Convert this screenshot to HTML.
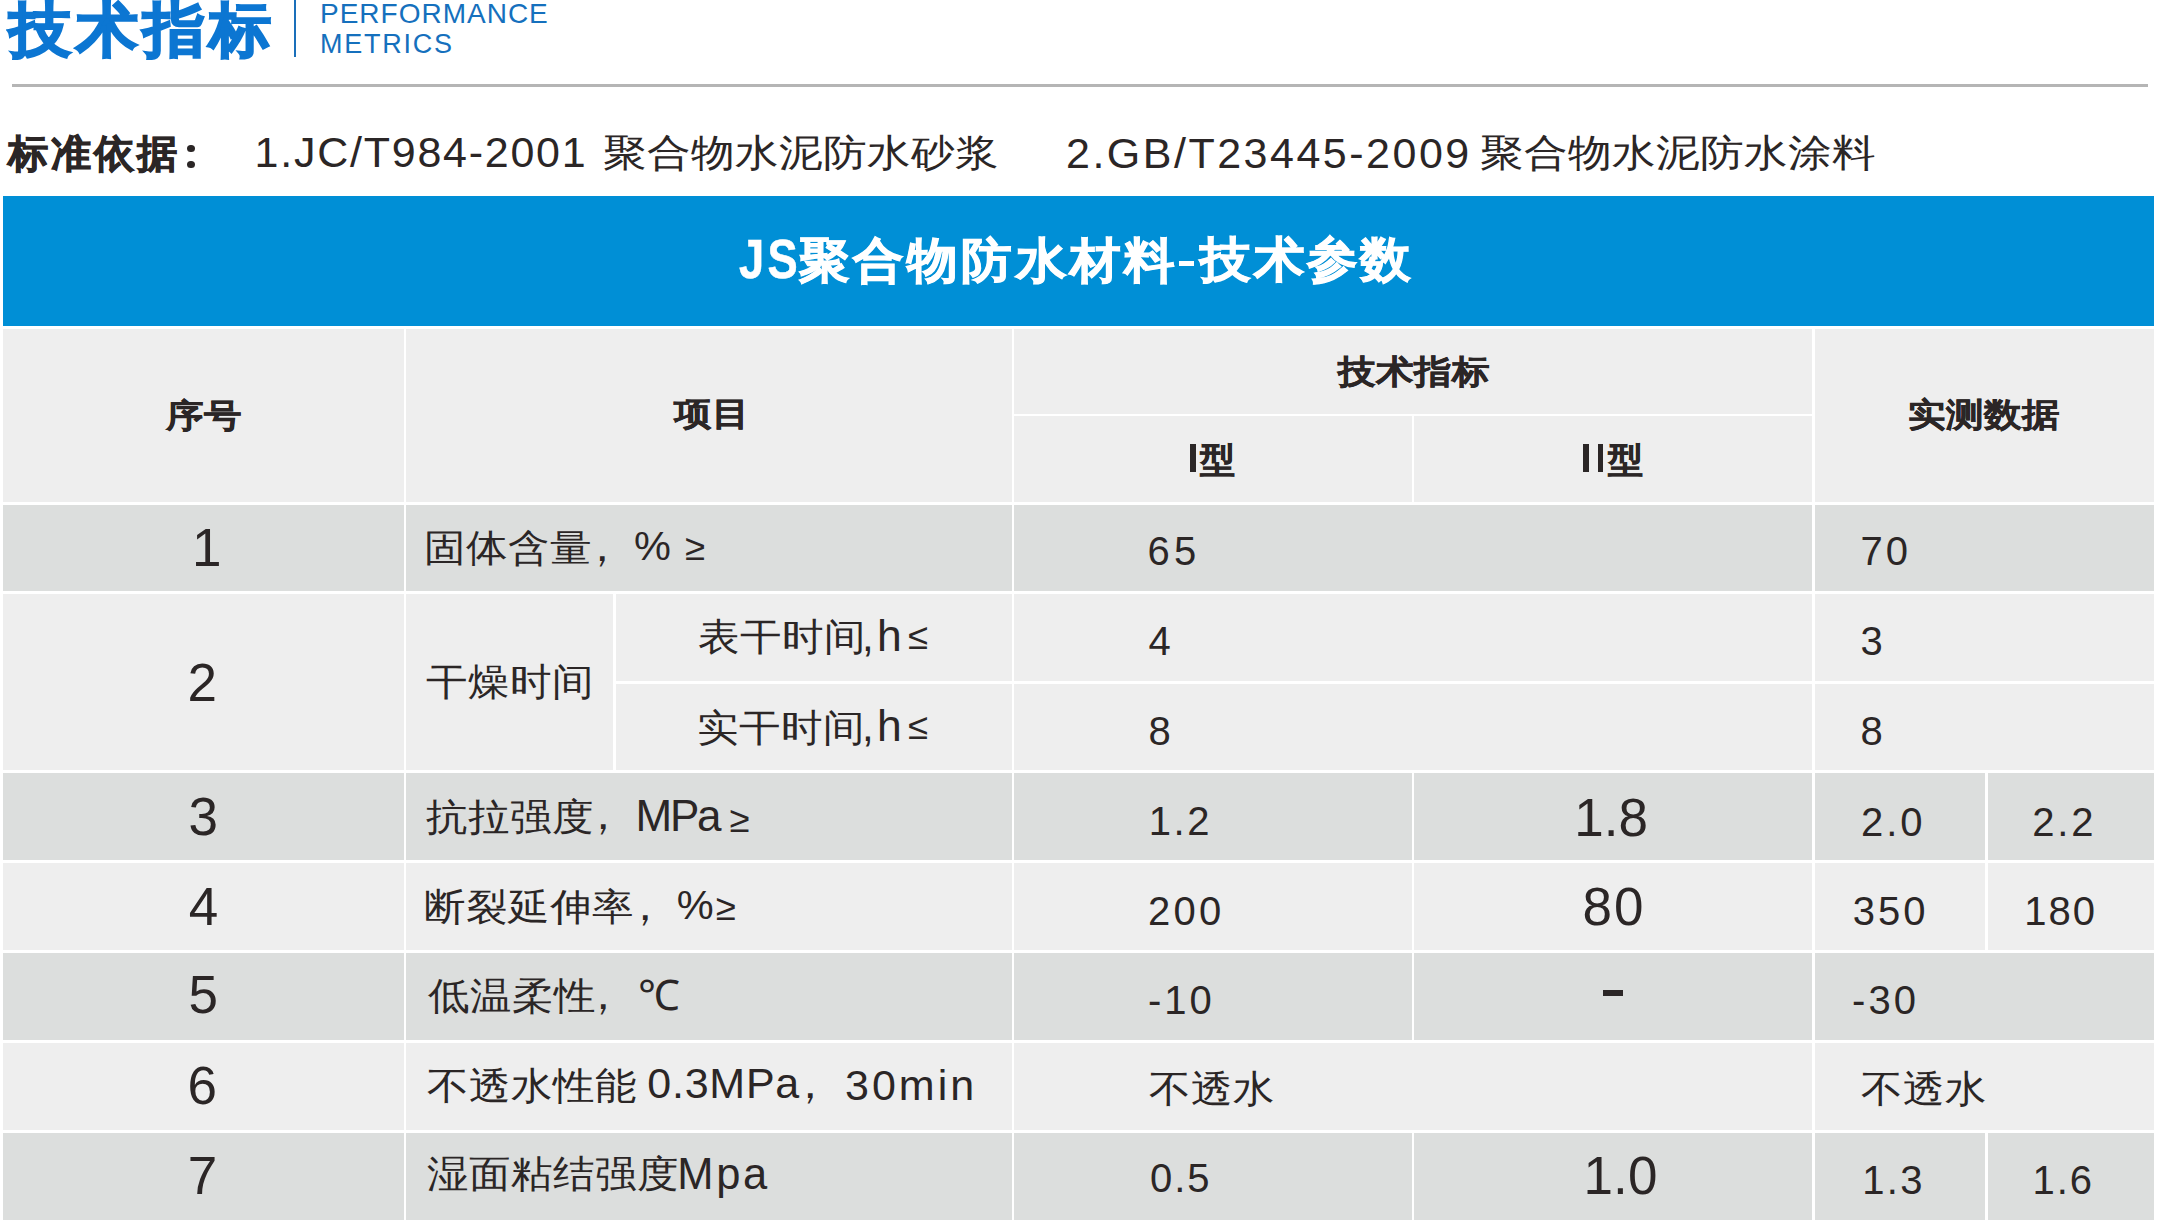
<!DOCTYPE html>
<html><head><meta charset="utf-8"><style>
html,body{margin:0;padding:0;background:#fff;width:2157px;height:1222px;overflow:hidden;position:relative}
.r{position:absolute}
.t{position:absolute;white-space:pre;line-height:1;font-family:"Liberation Sans",sans-serif}
</style></head><body>
<div class="r" style="left:294px;top:0px;width:2px;height:57px;background:#1a6fba"></div>
<div class="r" style="left:12px;top:84px;width:2136px;height:3px;background:#b5b5b5"></div>
<div class="r" style="left:3px;top:196px;width:2151px;height:130px;background:#008fd6"></div>
<div class="r" style="left:3px;top:329px;width:401px;height:173px;background:#eeeeee"></div>
<div class="r" style="left:406px;top:329px;width:606px;height:173px;background:#eeeeee"></div>
<div class="r" style="left:1014px;top:329px;width:798px;height:85px;background:#eeeeee"></div>
<div class="r" style="left:1014px;top:416px;width:398px;height:86px;background:#eeeeee"></div>
<div class="r" style="left:1414px;top:416px;width:398px;height:86px;background:#eeeeee"></div>
<div class="r" style="left:1815px;top:329px;width:339px;height:173px;background:#eeeeee"></div>
<div class="r" style="left:3px;top:505px;width:401px;height:86px;background:#dcdedd"></div>
<div class="r" style="left:406px;top:505px;width:606px;height:86px;background:#dcdedd"></div>
<div class="r" style="left:1014px;top:505px;width:798px;height:86px;background:#dcdedd"></div>
<div class="r" style="left:1815px;top:505px;width:339px;height:86px;background:#dcdedd"></div>
<div class="r" style="left:3px;top:594px;width:401px;height:176px;background:#eeeeee"></div>
<div class="r" style="left:406px;top:594px;width:207px;height:176px;background:#eeeeee"></div>
<div class="r" style="left:616px;top:594px;width:396px;height:87px;background:#eeeeee"></div>
<div class="r" style="left:1014px;top:594px;width:798px;height:87px;background:#eeeeee"></div>
<div class="r" style="left:1815px;top:594px;width:339px;height:87px;background:#eeeeee"></div>
<div class="r" style="left:616px;top:684px;width:396px;height:86px;background:#eeeeee"></div>
<div class="r" style="left:1014px;top:684px;width:798px;height:86px;background:#eeeeee"></div>
<div class="r" style="left:1815px;top:684px;width:339px;height:86px;background:#eeeeee"></div>
<div class="r" style="left:3px;top:773px;width:401px;height:87px;background:#dcdedd"></div>
<div class="r" style="left:406px;top:773px;width:606px;height:87px;background:#dcdedd"></div>
<div class="r" style="left:1014px;top:773px;width:398px;height:87px;background:#dcdedd"></div>
<div class="r" style="left:1414px;top:773px;width:398px;height:87px;background:#dcdedd"></div>
<div class="r" style="left:1815px;top:773px;width:170px;height:87px;background:#dcdedd"></div>
<div class="r" style="left:1988px;top:773px;width:166px;height:87px;background:#dcdedd"></div>
<div class="r" style="left:3px;top:863px;width:401px;height:87px;background:#eeeeee"></div>
<div class="r" style="left:406px;top:863px;width:606px;height:87px;background:#eeeeee"></div>
<div class="r" style="left:1014px;top:863px;width:398px;height:87px;background:#eeeeee"></div>
<div class="r" style="left:1414px;top:863px;width:398px;height:87px;background:#eeeeee"></div>
<div class="r" style="left:1815px;top:863px;width:170px;height:87px;background:#eeeeee"></div>
<div class="r" style="left:1988px;top:863px;width:166px;height:87px;background:#eeeeee"></div>
<div class="r" style="left:3px;top:953px;width:401px;height:87px;background:#dcdedd"></div>
<div class="r" style="left:406px;top:953px;width:606px;height:87px;background:#dcdedd"></div>
<div class="r" style="left:1014px;top:953px;width:398px;height:87px;background:#dcdedd"></div>
<div class="r" style="left:1414px;top:953px;width:398px;height:87px;background:#dcdedd"></div>
<div class="r" style="left:1815px;top:953px;width:339px;height:87px;background:#dcdedd"></div>
<div class="r" style="left:3px;top:1043px;width:401px;height:87px;background:#eeeeee"></div>
<div class="r" style="left:406px;top:1043px;width:606px;height:87px;background:#eeeeee"></div>
<div class="r" style="left:1014px;top:1043px;width:798px;height:87px;background:#eeeeee"></div>
<div class="r" style="left:1815px;top:1043px;width:339px;height:87px;background:#eeeeee"></div>
<div class="r" style="left:3px;top:1133px;width:401px;height:87px;background:#dcdedd"></div>
<div class="r" style="left:406px;top:1133px;width:606px;height:87px;background:#dcdedd"></div>
<div class="r" style="left:1014px;top:1133px;width:398px;height:87px;background:#dcdedd"></div>
<div class="r" style="left:1414px;top:1133px;width:398px;height:87px;background:#dcdedd"></div>
<div class="r" style="left:1815px;top:1133px;width:170px;height:87px;background:#dcdedd"></div>
<div class="r" style="left:1988px;top:1133px;width:166px;height:87px;background:#dcdedd"></div>
<div class="r" style="left:1190px;top:444px;width:6px;height:28px;background:#2b2626"></div>
<div class="r" style="left:1583px;top:444px;width:6px;height:28px;background:#2b2626"></div>
<div class="r" style="left:1598px;top:444px;width:5px;height:28px;background:#2b2626"></div>
<div class="r" style="left:1603px;top:990px;width:20px;height:6px;background:#2b2626"></div>
<div class="r" style="left:1179px;top:261px;width:15px;height:5px;background:#ffffff"></div>
<div class="t" style="left:9.0px;top:0.6px;font-size:62.0px;letter-spacing:4.75px;font-weight:bold;-webkit-text-stroke:2px #0c76d2;transform:scale(1.0,0.95);transform-origin:0 0;color:#0c76d2">技术指标</div>
<div class="t" style="left:320.0px;top:0.0px;font-size:28.0px;letter-spacing:1.0px;color:#1570bd">PERFORMANCE</div>
<div class="t" style="left:320.0px;top:31.0px;font-size:27.0px;letter-spacing:1.75px;color:#1570bd">METRICS</div>
<div class="t" style="left:8.0px;top:134.1px;font-size:40.5px;letter-spacing:2.0px;font-weight:bold;-webkit-text-stroke:0.8px #2b2626;transform:scale(1.0,0.97);transform-origin:0 0;color:#2b2626">标准依据</div>
<div class="t" style="left:254.6px;top:131.3px;font-size:43.0px;letter-spacing:1.75px;color:#2b2626">1.JC/T984-2001</div>
<div class="t" style="left:602.6px;top:134.5px;font-size:43.5px;letter-spacing:0.0px;transform:scale(1.0,0.87);transform-origin:0 0;color:#2b2626">聚合物水泥防水砂浆</div>
<div class="t" style="left:1066.0px;top:131.7px;font-size:43.0px;letter-spacing:2.5px;color:#2b2626">2.GB/T23445-2009</div>
<div class="t" style="left:1479.8px;top:135.0px;font-size:43.5px;letter-spacing:0.0px;transform:scale(1.0,0.87);transform-origin:0 0;color:#2b2626">聚合物水泥防水涂料</div>
<div class="t" style="left:738.7px;top:230.6px;font-size:56.0px;letter-spacing:4.0px;font-weight:bold;-webkit-text-stroke:0.5px #ffffff;transform:scale(0.809,1.0);transform-origin:0 0;color:#ffffff">JS</div>
<div class="t" style="left:798.6px;top:236.1px;font-size:51.0px;letter-spacing:3.25px;font-weight:bold;-webkit-text-stroke:1.0px #ffffff;transform:scale(1.0,0.95);transform-origin:0 0;color:#ffffff">聚合物防水材料</div>
<div class="t" style="left:1200.4px;top:235.3px;font-size:51.0px;letter-spacing:2.25px;font-weight:bold;-webkit-text-stroke:1.0px #ffffff;transform:scale(1.0,0.95);transform-origin:0 0;color:#ffffff">技术参数</div>
<div class="t" style="left:165.5px;top:399.7px;font-size:37.5px;letter-spacing:0.0px;font-weight:bold;-webkit-text-stroke:0.5px #2b2626;transform:scale(1.0,0.88);transform-origin:0 0;color:#2b2626">序号</div>
<div class="t" style="left:674.0px;top:398.2px;font-size:37.5px;letter-spacing:0.0px;font-weight:bold;-webkit-text-stroke:0.5px #2b2626;transform:scale(1.0,0.88);transform-origin:0 0;color:#2b2626">项目</div>
<div class="t" style="left:1337.5px;top:355.7px;font-size:37.5px;letter-spacing:0.0px;font-weight:bold;-webkit-text-stroke:0.5px #2b2626;transform:scale(1.0,0.88);transform-origin:0 0;color:#2b2626">技术指标</div>
<div class="t" style="left:1200.2px;top:442.0px;font-size:35.0px;letter-spacing:0.0px;font-weight:bold;-webkit-text-stroke:0.5px #2b2626;color:#2b2626">型</div>
<div class="t" style="left:1607.9px;top:442.0px;font-size:35.0px;letter-spacing:0.0px;font-weight:bold;-webkit-text-stroke:0.5px #2b2626;color:#2b2626">型</div>
<div class="t" style="left:1907.6px;top:399.4px;font-size:37.5px;letter-spacing:0.0px;font-weight:bold;-webkit-text-stroke:0.5px #2b2626;transform:scale(1.0,0.88);transform-origin:0 0;color:#2b2626">实测数据</div>
<div class="t" style="left:191.9px;top:521.4px;font-size:53.0px;letter-spacing:0.0px;color:#2b2626">1</div>
<div class="t" style="left:187.6px;top:656.1px;font-size:53.0px;letter-spacing:0.0px;color:#2b2626">2</div>
<div class="t" style="left:188.4px;top:789.6px;font-size:53.0px;letter-spacing:0.0px;color:#2b2626">3</div>
<div class="t" style="left:188.8px;top:879.5px;font-size:53.0px;letter-spacing:0.0px;color:#2b2626">4</div>
<div class="t" style="left:188.4px;top:967.5px;font-size:53.0px;letter-spacing:0.0px;color:#2b2626">5</div>
<div class="t" style="left:187.4px;top:1058.7px;font-size:53.0px;letter-spacing:0.0px;color:#2b2626">6</div>
<div class="t" style="left:187.7px;top:1148.5px;font-size:53.0px;letter-spacing:0.0px;color:#2b2626">7</div>
<div class="t" style="left:424.0px;top:529.1px;font-size:42.0px;letter-spacing:0.0px;transform:scale(1.0,0.915);transform-origin:0 0;color:#2b2626">固体含量</div>
<div class="t" style="left:580.6px;top:526.0px;font-size:42.0px;letter-spacing:0.0px;color:#2b2626">，</div>
<div class="t" style="left:633.9px;top:525.2px;font-size:41.5px;letter-spacing:0.0px;color:#2b2626">%</div>
<div class="t" style="left:684.9px;top:529.8px;font-size:36.5px;letter-spacing:0.0px;color:#2b2626">≥</div>
<div class="t" style="left:426.2px;top:663.0px;font-size:42.0px;letter-spacing:0.0px;transform:scale(1.0,0.915);transform-origin:0 0;color:#2b2626">干燥时间</div>
<div class="t" style="left:698.0px;top:618.2px;font-size:42.0px;letter-spacing:0.0px;transform:scale(1.0,0.915);transform-origin:0 0;color:#2b2626">表干时间</div>
<div class="t" style="left:862.0px;top:615.5px;font-size:42.0px;letter-spacing:0.0px;color:#2b2626">,</div>
<div class="t" style="left:877.0px;top:614.0px;font-size:44.5px;letter-spacing:0.0px;color:#2b2626">h</div>
<div class="t" style="left:908.0px;top:619.0px;font-size:36.5px;letter-spacing:0.0px;color:#2b2626">≤</div>
<div class="t" style="left:697.0px;top:708.5px;font-size:42.0px;letter-spacing:0.0px;transform:scale(1.0,0.915);transform-origin:0 0;color:#2b2626">实干时间</div>
<div class="t" style="left:862.0px;top:705.8px;font-size:42.0px;letter-spacing:0.0px;color:#2b2626">,</div>
<div class="t" style="left:877.0px;top:704.3px;font-size:44.5px;letter-spacing:0.0px;color:#2b2626">h</div>
<div class="t" style="left:908.0px;top:709.2px;font-size:36.5px;letter-spacing:0.0px;color:#2b2626">≤</div>
<div class="t" style="left:426.0px;top:797.7px;font-size:42.0px;letter-spacing:0.0px;transform:scale(1.0,0.915);transform-origin:0 0;color:#2b2626">抗拉强度</div>
<div class="t" style="left:582.0px;top:794.0px;font-size:42.0px;letter-spacing:0.0px;color:#2b2626">，</div>
<div class="t" style="left:635.6px;top:794.3px;font-size:44.0px;letter-spacing:-2.25px;color:#2b2626">MPa</div>
<div class="t" style="left:729.5px;top:801.5px;font-size:36.5px;letter-spacing:0.0px;color:#2b2626">≥</div>
<div class="t" style="left:424.2px;top:887.8px;font-size:42.0px;letter-spacing:0.0px;transform:scale(1.0,0.915);transform-origin:0 0;color:#2b2626">断裂延伸率</div>
<div class="t" style="left:624.0px;top:884.7px;font-size:42.0px;letter-spacing:0.0px;color:#2b2626">，</div>
<div class="t" style="left:676.7px;top:883.9px;font-size:41.5px;letter-spacing:0.0px;color:#2b2626">%</div>
<div class="t" style="left:715.7px;top:890.4px;font-size:36.5px;letter-spacing:0.0px;color:#2b2626">≥</div>
<div class="t" style="left:427.5px;top:977.1px;font-size:42.0px;letter-spacing:0.0px;transform:scale(1.0,0.915);transform-origin:0 0;color:#2b2626">低温柔性</div>
<div class="t" style="left:582.0px;top:974.0px;font-size:42.0px;letter-spacing:0.0px;color:#2b2626">，</div>
<div class="t" style="left:638.0px;top:975.0px;font-size:42.0px;letter-spacing:0.0px;color:#2b2626">℃</div>
<div class="t" style="left:426.5px;top:1067.0px;font-size:42.0px;letter-spacing:0.0px;transform:scale(1.0,0.915);transform-origin:0 0;color:#2b2626">不透水性能</div>
<div class="t" style="left:647.3px;top:1061.9px;font-size:43.0px;letter-spacing:0.75px;color:#2b2626">0.3MPa</div>
<div class="t" style="left:789.0px;top:1063.0px;font-size:42.0px;letter-spacing:0.0px;color:#2b2626">，</div>
<div class="t" style="left:845.0px;top:1063.9px;font-size:43.0px;letter-spacing:3.0px;color:#2b2626">30min</div>
<div class="t" style="left:426.5px;top:1155.0px;font-size:42.0px;letter-spacing:0.0px;transform:scale(1.0,0.915);transform-origin:0 0;color:#2b2626">湿面粘结强度</div>
<div class="t" style="left:677.2px;top:1153.0px;font-size:43.5px;letter-spacing:2.75px;color:#2b2626">Mpa</div>
<div class="t" style="left:1147.6px;top:531.4px;font-size:40.0px;letter-spacing:4.25px;color:#2b2626">65</div>
<div class="t" style="left:1860.6px;top:531.4px;font-size:40.0px;letter-spacing:3.0px;color:#2b2626">70</div>
<div class="t" style="left:1148.6px;top:620.8px;font-size:40.0px;letter-spacing:0.0px;color:#2b2626">4</div>
<div class="t" style="left:1860.6px;top:621.0px;font-size:40.0px;letter-spacing:0.0px;color:#2b2626">3</div>
<div class="t" style="left:1148.6px;top:710.5px;font-size:40.0px;letter-spacing:0.0px;color:#2b2626">8</div>
<div class="t" style="left:1860.6px;top:710.5px;font-size:40.0px;letter-spacing:0.0px;color:#2b2626">8</div>
<div class="t" style="left:1148.8px;top:801.0px;font-size:40.0px;letter-spacing:2.5px;color:#2b2626">1.2</div>
<div class="t" style="left:1860.9px;top:801.9px;font-size:40.0px;letter-spacing:3.0px;color:#2b2626">2.0</div>
<div class="t" style="left:2032.3px;top:801.8px;font-size:40.0px;letter-spacing:2.75px;color:#2b2626">2.2</div>
<div class="t" style="left:1148.0px;top:890.6px;font-size:40.0px;letter-spacing:3.25px;color:#2b2626">200</div>
<div class="t" style="left:1852.8px;top:890.6px;font-size:40.0px;letter-spacing:3.0px;color:#2b2626">350</div>
<div class="t" style="left:2024.3px;top:890.6px;font-size:40.0px;letter-spacing:2.0px;color:#2b2626">180</div>
<div class="t" style="left:1148.0px;top:980.3px;font-size:40.0px;letter-spacing:3.0px;color:#2b2626">-10</div>
<div class="t" style="left:1852.1px;top:980.0px;font-size:40.0px;letter-spacing:3.0px;color:#2b2626">-30</div>
<div class="t" style="left:1150.0px;top:1158.2px;font-size:40.0px;letter-spacing:2.0px;color:#2b2626">0.5</div>
<div class="t" style="left:1862.3px;top:1159.5px;font-size:40.0px;letter-spacing:2.25px;color:#2b2626">1.3</div>
<div class="t" style="left:2032.4px;top:1159.5px;font-size:40.0px;letter-spacing:2.0px;color:#2b2626">1.6</div>
<div class="t" style="left:1574.3px;top:790.5px;font-size:53.0px;letter-spacing:0.0px;color:#2b2626">1.8</div>
<div class="t" style="left:1582.6px;top:879.6px;font-size:53.0px;letter-spacing:2.0px;color:#2b2626">80</div>
<div class="t" style="left:1583.4px;top:1149.0px;font-size:53.0px;letter-spacing:0.25px;color:#2b2626">1.0</div>
<div class="t" style="left:1149.0px;top:1070.2px;font-size:42.0px;letter-spacing:0.0px;transform:scale(1.0,0.915);transform-origin:0 0;color:#2b2626">不透水</div>
<div class="t" style="left:1860.8px;top:1070.2px;font-size:42.0px;letter-spacing:0.0px;transform:scale(1.0,0.915);transform-origin:0 0;color:#2b2626">不透水</div>
<div class="r" style="left:187px;top:145px;width:7.5px;height:7px;border-radius:50%;background:#2b2626"></div>
<div class="r" style="left:187px;top:161px;width:7.5px;height:7px;border-radius:50%;background:#2b2626"></div>
</body></html>
